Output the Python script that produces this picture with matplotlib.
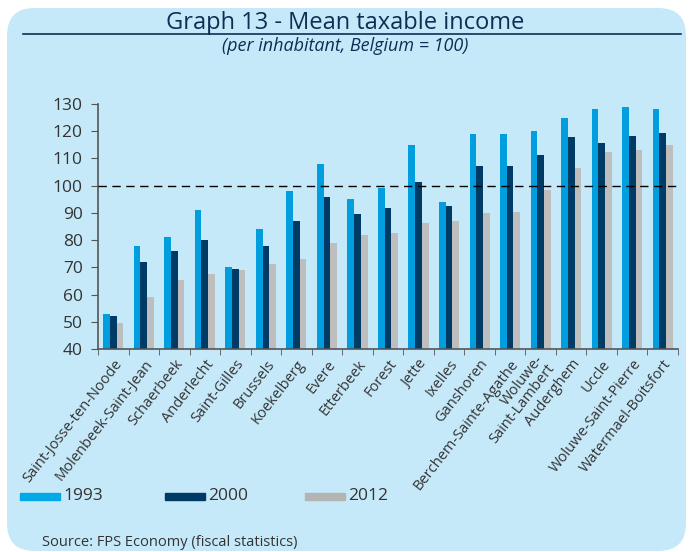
import matplotlib
matplotlib.use('Agg')
import matplotlib.pyplot as plt
import matplotlib.transforms as mtrans
import numpy as np
from matplotlib.patches import FancyBboxPatch, Rectangle
from matplotlib.lines import Line2D

plt.rcParams['font.family'] = ['Open Sans', 'DejaVu Sans']

communes = ["Saint-Josse-ten-Noode", "Molenbeek-Saint-Jean", "Schaerbeek", "Anderlecht",
            "Saint-Gilles", "Brussels", "Koekelberg", "Evere", "Etterbeek", "Forest",
            "Jette", "Ixelles", "Ganshoren", "Berchem-Sainte-Agathe", "Woluwe-\nSaint-Lambert",
            "Auderghem", "Uccle", "Woluwe-Saint-Pierre", "Watermael-Boitsfort"]
v1993 = [53, 78, 81, 91, 70, 84, 98, 108, 95, 99, 115, 94, 119, 119, 120, 125, 128, 129, 128]
v2000 = [52, 72, 76, 80, 69.3, 78, 87, 96, 89.5, 91.7, 101.4, 92.4, 107.4, 107.4, 111.3, 117.8, 115.5, 118.4, 119.2]
v2012 = [49.4, 59, 65.4, 67.5, 68.9, 71.2, 73.1, 79.1, 81.7, 82.5, 86.2, 87.1, 90, 90.4, 98.4, 106.4, 112.4, 113.2, 114.9]
years = ["1993", "2000", "2012"]
colors = ["#009ddf", "#003b66", "#bebebe"]

bg = "#c6e9f9"
txt = "#333333"
navy = "#0d2f56"

fig = plt.figure(figsize=(6.9, 5.52), dpi=100)
W, H = 690, 552

def fx(px):
    return px / W

def fy(py):
    return 1 - py / H

# rounded background panel
panel = FancyBboxPatch((fx(7), fy(551)), fx(686) - fx(7), fy(8) - fy(551),
                       boxstyle="round,pad=0,rounding_size=0.04",
                       transform=fig.transFigure, facecolor=bg, edgecolor='none',
                       mutation_aspect=W / H, zorder=-5)
fig.patches.append(panel)

fig.add_artist(Line2D([fx(23), fx(681)], [fy(34), fy(34)], color=navy, lw=1.2,
                      transform=fig.transFigure))
fig.text(0.5, fy(23), "Graph 13 - Mean taxable income", ha='center', va='center',
         fontsize=17, color=navy)
fig.text(0.5, fy(46), "(per inhabitant, Belgium = 100)", ha='center', va='center',
         fontsize=13, style='italic', color=navy)

ax = fig.add_axes([fx(98), fy(349), fx(678) - fx(98), fy(104) - fy(349)])
ax.set_facecolor('none')
x = np.arange(len(communes))
w = 0.22
for i, (vals, c) in enumerate(zip([v1993, v2000, v2012], colors)):
    ax.bar(x + (i - 1) * w, np.array(vals) - 40, width=w, bottom=40, color=c,
           label=years[i], zorder=2)

ax.axhline(100, color='black', lw=1, ls=(0, (6, 4)), zorder=3)
ax.set_xlim(-0.5, len(communes) - 0.5)
ax.set_ylim(40, 130)
ax.set_yticks(range(40, 131, 10))
ax.tick_params(axis='y', labelsize=12.5, colors='#555555', labelcolor=txt, length=5, pad=6)
ax.set_xticks(x)
ax.set_xticklabels(communes, rotation=52, ha='right', va='center', rotation_mode='anchor',
                   fontsize=10.5, color=txt, linespacing=0.95, multialignment='right')
ax.tick_params(axis='x', length=0, pad=9)
shift = mtrans.ScaledTranslation(6 / 100, 0, fig.dpi_scale_trans)
for lab in ax.get_xticklabels():
    lab.set_transform(lab.get_transform() + shift)
ax.set_xticks(np.arange(-0.5, len(communes), 1), minor=True)
ax.tick_params(axis='x', which='minor', length=4, color='#555555')
for s in ['top', 'right']:
    ax.spines[s].set_visible(False)
for s in ['left', 'bottom']:
    ax.spines[s].set_color('#555555')
    ax.spines[s].set_linewidth(1.2)

# legend
leg_x = [20, 165, 305]
for lx, c, yr in zip(leg_x, ["#00a9e6", "#003b66", "#b4b4b4"], years):
    fig.add_artist(Rectangle((fx(lx), fy(500)), fx(40), fy(493) - fy(500), color=c,
                             transform=fig.transFigure))
    fig.text(fx(lx + 43), fy(496), yr, ha='left', va='center', fontsize=12.5, color=txt)

fig.text(fx(42), fy(543), "Source: FPS Economy (fiscal statistics)", ha='left',
         va='center', fontsize=10.5, color=txt)

fig.savefig("out.png", dpi=100, facecolor='white')
